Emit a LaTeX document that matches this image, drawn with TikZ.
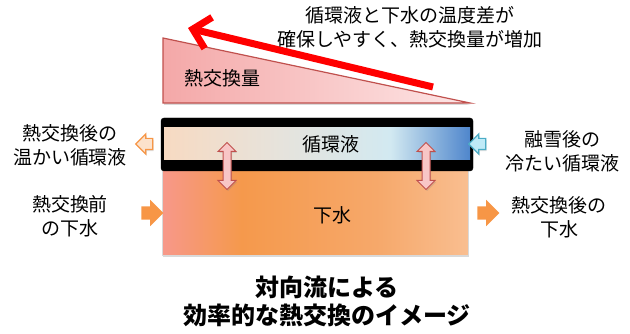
\documentclass[tikz,border=0pt]{standalone}
\usepackage{fontspec}
\setmainfont{Noto Sans CJK JP}
\usetikzlibrary{arrows.meta,shapes.arrows,shadows}

\definecolor{WedgeLine}{HTML}{C0504D}
\definecolor{WedgePink}{HTML}{F4A8A8}
\definecolor{WedgePale}{HTML}{FDE6E6}
\definecolor{GainRed}{HTML}{FF0000}
\definecolor{Peach}{HTML}{F7DAC2}
\definecolor{Mist}{HTML}{E6E3DC}
\definecolor{Ice}{HTML}{D2E9F1}
\definecolor{ColdBlue}{HTML}{4F86CC}
\definecolor{Salmon}{HTML}{F7988A}
\definecolor{SewageOrange}{HTML}{F5994C}
\definecolor{SewageMid}{HTML}{F6A86A}
\definecolor{SewageLight}{HTML}{F9BE90}
\definecolor{FlowOrange}{HTML}{F79646}
\definecolor{WarmFill}{HTML}{FCE2CC}
\definecolor{ColdFill}{HTML}{BFEAF7}
\definecolor{ColdLine}{HTML}{4BACC6}
\definecolor{SwapFill}{HTML}{F8C6C6}

\pgfdeclarehorizontalshading{CoolantShade}{100bp}{color(0bp)=(Peach); color(25bp)=(Peach); color(44bp)=(Mist); color(62bp)=(Ice); color(75bp)=(ColdBlue); color(100bp)=(ColdBlue)}
\pgfdeclarehorizontalshading{SewageShade}{100bp}{color(0bp)=(Salmon); color(25bp)=(Salmon); color(38bp)=(SewageOrange); color(60bp)=(SewageMid); color(75bp)=(SewageLight); color(100bp)=(SewageLight)}

\begin{document}
\begin{tikzpicture}[x=1pt,y=-1pt]
\tikzset{TextStyle/.style =
	{font=\fontsize{19}{24}\selectfont,
		align=center,
		inner sep=0pt}}
\tikzset{WedgeStyle/.style =
	{draw=WedgeLine,
		line width=1.2pt,
		left color=WedgePink,
		right color=WedgePale,
		drop shadow={opacity=.3,shadow xshift=1pt,shadow yshift=-2pt}}}
\tikzset{TankStyle/.style =
	{rectangle,
		minimum width=306pt,
		inner sep=0pt,
		draw=white!85!black,
		line width=.8pt,
		shading=SewageShade,
		drop shadow={opacity=.3,shadow xshift=1pt,shadow yshift=-2pt}}}
\tikzset{PipeStyle/.style =
	{rectangle,
		minimum width=306pt,
		minimum height=32pt,
		inner sep=0pt,
		shading=CoolantShade}}
\tikzset{SwapStyle/.style =
	{double arrow,
		rotate=90,
		minimum height=47pt,
		inner sep=3.5pt,
		double arrow head extend=5pt,
		fill=SwapFill,
		draw=WedgeLine,
		line width=1pt,
		drop shadow={opacity=.25,shadow xshift=1pt,shadow yshift=-1.5pt}}}
\tikzset{FlowStyle/.style =
	{single arrow,
		minimum height=22pt,
		inner sep=6.5pt,
		single arrow head extend=6.5pt,
		fill=FlowOrange}}
\tikzset{PortStyle/.style =
	{single arrow,
		rotate=180,
		minimum height=17pt,
		inner sep=5pt,
		single arrow head extend=4.5pt,
		line width=1.2pt,
		drop shadow={opacity=.25,shadow xshift=1pt,shadow yshift=-1.5pt}}}
\tikzset{GainStyle/.style =
	{draw=GainRed,
		line width=7pt,
		-{Straight Barb[length=16pt,width=32pt]}}}

\useasboundingbox (0,0) rectangle (630,334);

% heat exchanged
\draw[WedgeStyle] (163,38) -- (470,103) -- (163,103) -- cycle;
\node[TextStyle] (gain) at (222,78) {熱交換量};
\coordinate (gain start) at (433,87);
\coordinate (gain end) at (188,28);
\draw[GainStyle] (gain start) -- (gain end);
\node[TextStyle] (note) at (410,27) {循環液と下水の温度差が\\確保しやすく、熱交換量が増加};

% sewage and loop
\node[TankStyle, minimum height=92pt] (sewage) at (315,209) {};
\node[TextStyle] (sewage label) at (332,215) {下水};
\draw[fill=black, rounded corners=3pt] (161,118) rectangle (473,171);
\node[PipeStyle] (loop) at (317,144) {};
\node[TextStyle] (loop label) at (331,144) {循環液};
\node[SwapStyle] (swap left) at (227,166) {};
\node[SwapStyle] (swap right) at (426,166) {};
%\node[SwapStyle] (swap mid) at (326,166) {};

% in and out
\node[PortStyle, fill=WarmFill, draw=FlowOrange] (warm out) at (147,144) {};
\node[PortStyle, fill=ColdFill, draw=ColdLine] (cold in) at (480,144) {};
\node[FlowStyle] (sewage in) at (149,213) {};
\node[FlowStyle] (sewage out) at (485,213) {};

\node[TextStyle] (warm label) at (70,145) {熱交換後の\\温かい循環液};
\node[TextStyle] (raw label) at (70,216) {熱交換前\\の下水};
\node[TextStyle] (cold label) at (562,151) {融雪後の\\冷たい循環液};
\node[TextStyle] (used label) at (559,217) {熱交換後の\\下水};

\node[TextStyle, font=\fontsize{24}{28}\selectfont\bfseries] (title) at (327,301) {対向流による\\効率的な熱交換のイメージ};
\end{tikzpicture}
\end{document}
